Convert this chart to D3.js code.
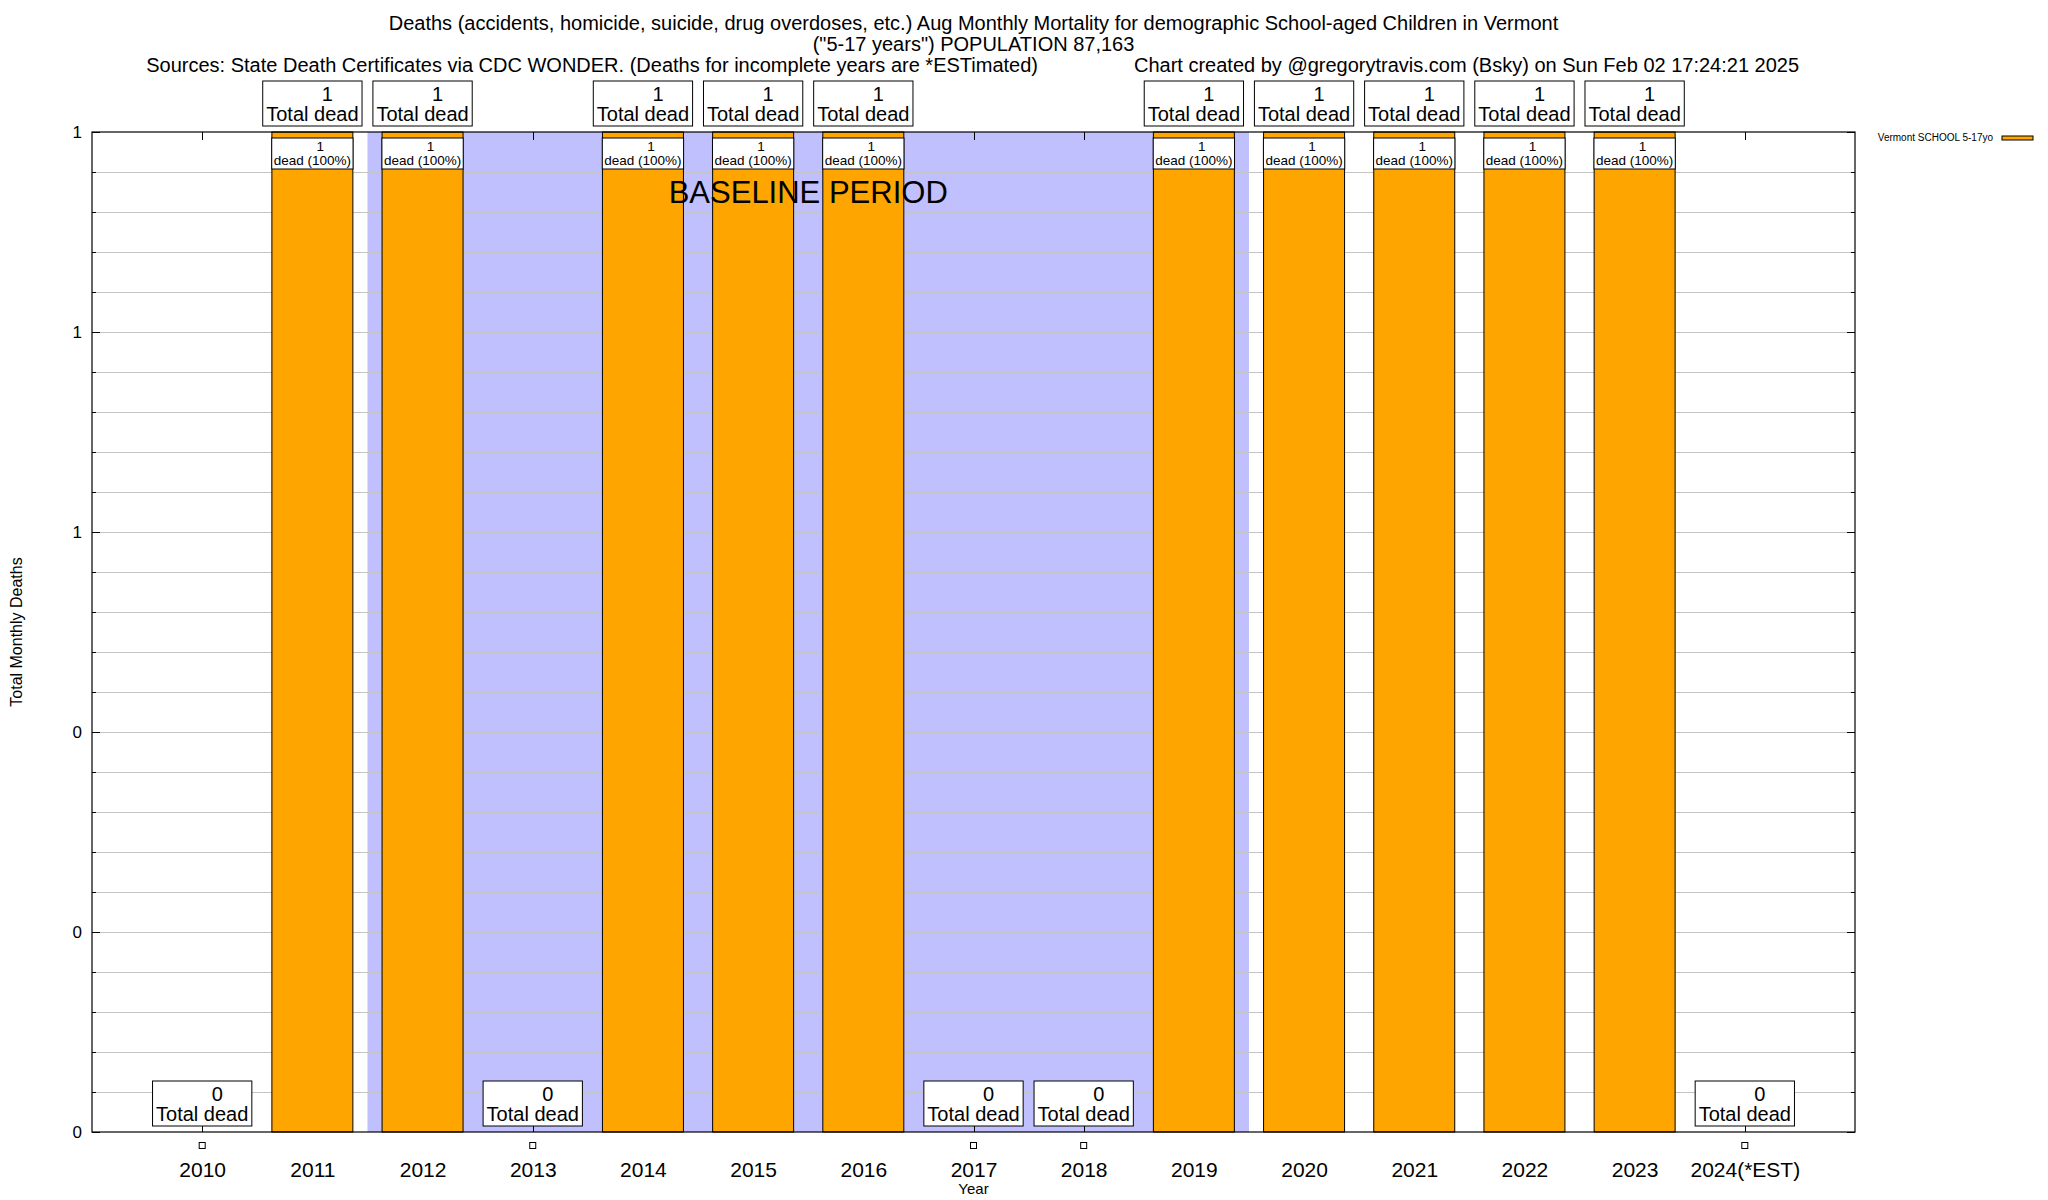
<!DOCTYPE html>
<html>
<head>
<meta charset="utf-8">
<script src="https://cdn.jsdelivr.net/npm/d3@7"></script>
<style>
  html, body { margin: 0; padding: 0; background: #fff; }
  svg { display: block; font-family: "Liberation Sans", Arial, Helvetica, sans-serif; }
</style>
</head>
<body>
<svg id="chart" width="2048" height="1200"></svg>
<script>
// ---------------- data ----------------
const categories = ["2010","2011","2012","2013","2014","2015","2016","2017","2018","2019","2020","2021","2022","2023","2024(*EST)"];
const deaths = [0, 1, 1, 0, 1, 1, 1, 0, 0, 1, 1, 1, 1, 1, 0];
const yTickValues = [0, 0.2, 0.4, 0.6, 0.8, 1];
const seriesName = "Vermont SCHOOL 5-17yo";
const baselineStart = "2012";
const baselineEnd = "2019";
const baselineLabel = "BASELINE PERIOD";
const titleLine1 = "Deaths (accidents, homicide, suicide, drug overdoses, etc.) Aug Monthly Mortality for demographic School-aged Children in Vermont";
const titleLine2 = "(\"5-17 years\") POPULATION 87,163";
const titleLine3a = "Sources: State Death Certificates via CDC WONDER. (Deaths for incomplete years are *ESTimated)";
const titleLine3b = "Chart created by @gregorytravis.com (Bsky) on Sun Feb 02 17:24:21 2025";
const xTitle = "Year";
const yTitle = "Total Monthly Deaths";

// ---------------- layout ----------------
const W = 2048, H = 1200;
const L = 92, R = 1855, T = 132, B = 1132;
const ORANGE = "#ffa500", BAND = "#c0c0ff", GRID = "#c4c4c4";

const svg = d3.select("#chart");
const x = d3.scalePoint().domain(categories).range([L, R]).padding(1);
const step = x.step();
const y = d3.scaleLinear().domain([0, 1]).range([B, T]);

// baseline band
const bx0 = x(baselineStart) - step / 2, bx1 = x(baselineEnd) + step / 2;
svg.append("rect").attr("x", bx0).attr("y", T).attr("width", bx1 - bx0).attr("height", B - T).attr("fill", BAND);

// grid lines
const minorTicks = d3.range(1, 25).map(i => i * 0.04);
svg.append("g").selectAll("line").data(minorTicks).join("line")
  .attr("x1", L).attr("x2", R).attr("y1", d => y(d)).attr("y2", d => y(d))
  .attr("stroke", GRID).attr("stroke-width", 1).attr("shape-rendering", "crispEdges");

// minor ticks (left / right)
svg.append("g").selectAll("line").data(minorTicks).join("line")
  .attr("x1", L).attr("x2", L + 4).attr("y1", d => y(d)).attr("y2", d => y(d))
  .attr("stroke", "#000").attr("shape-rendering", "crispEdges");
svg.append("g").selectAll("line").data(minorTicks).join("line")
  .attr("x1", R).attr("x2", R - 4).attr("y1", d => y(d)).attr("y2", d => y(d))
  .attr("stroke", "#000").attr("shape-rendering", "crispEdges");

// axes
const fmt = d3.format(".0f");
const gL = svg.append("g").attr("transform", `translate(${L},0)`)
  .call(d3.axisLeft(y).tickValues(yTickValues).tickFormat(fmt).tickSizeInner(-8).tickSizeOuter(0).tickPadding(10));
const gR = svg.append("g").attr("transform", `translate(${R},0)`)
  .call(d3.axisRight(y).tickValues(yTickValues).tickFormat("").tickSizeInner(-8).tickSizeOuter(0));
const gB = svg.append("g").attr("transform", `translate(0,${B})`)
  .call(d3.axisBottom(x).tickSizeInner(-8).tickSizeOuter(0).tickPadding(30));
const gT = svg.append("g").attr("transform", `translate(0,${T})`)
  .call(d3.axisTop(x).tickFormat("").tickSizeInner(-8).tickSizeOuter(0));
[gL, gR, gB, gT].forEach(g => {
  g.select(".domain").remove();
  g.selectAll(".tick line").attr("stroke", "#000").attr("shape-rendering", "crispEdges");
  g.selectAll("text").attr("fill", "#000").attr("font-family", null);
});
gL.selectAll("text").attr("font-size", 17);
gB.selectAll("text").attr("font-size", 21);

// bars
const bw = step * 0.735;
svg.append("g").selectAll("rect").data(deaths).join("rect")
  .attr("x", (d, i) => x(categories[i]) - bw / 2)
  .attr("y", d => y(d))
  .attr("width", bw)
  .attr("height", d => y(0) - y(d))
  .attr("fill", ORANGE)
  .attr("stroke", d => d > 0 ? "#000" : "none")
  .attr("stroke-width", 1);

// border
svg.append("rect").attr("x", L).attr("y", T).attr("width", R - L).attr("height", B - T)
  .attr("fill", "none").attr("stroke", "#000").attr("stroke-width", 1.2);

// zero markers
svg.append("g").selectAll("rect")
  .data(deaths.map((d, i) => ({d, i})).filter(o => o.d === 0)).join("rect")
  .attr("x", o => x(categories[o.i]) - 3).attr("y", y(0) + 10.5)
  .attr("width", 6).attr("height", 6)
  .attr("fill", "#fff").attr("stroke", "#000").attr("stroke-width", 1);

// boxed label helper
function boxedLabel(g, cx, lines, fontSize, lineGap, firstDx, anchorY, placeAbove, padX, padY) {
  const grp = g.append("g");
  const rect = grp.append("rect").attr("fill", "#fff").attr("stroke", "#000").attr("stroke-width", 1);
  const t = grp.append("text").attr("font-size", fontSize).attr("text-anchor", "middle").attr("fill", "#000");
  lines.forEach((ln, k) => {
    t.append("tspan").attr("x", cx + (k === 0 ? firstDx : 0)).attr("y", k * lineGap).text(ln);
  });
  const bb = t.node().getBBox();
  let shift;
  if (placeAbove) shift = (anchorY - padY) - (bb.y + bb.height);
  else shift = (anchorY + padY) - bb.y;
  t.attr("transform", `translate(0,${shift})`);
  const widths = t.selectAll("tspan").nodes().map(n => n.getComputedTextLength());
  const maxW = d3.max(widths);
  rect.attr("x", cx - maxW / 2 - padX).attr("width", maxW + 2 * padX)
      .attr("y", bb.y + shift - padY).attr("height", bb.height + 2 * padY);
}

const labels = svg.append("g");
deaths.forEach((d, i) => {
  const cx = x(categories[i]);
  boxedLabel(labels, cx, [String(d), "Total dead"], 20, 20, 15, y(d) - 6, true, 3.5, 1.5);
  if (d > 0) {
    const pct = Math.round(100 * d / d);
    boxedLabel(labels, cx, [String(d), `dead (${pct}%)`], 13.5, 14, 8, y(d) + 6, false, 2, 1);
  }
});

// baseline label
svg.append("text").attr("x", (bx0 + bx1) / 2).attr("y", 203).attr("text-anchor", "middle")
  .attr("font-size", 31).attr("fill", "#000").text(baselineLabel);

// titles
const cxPlot = (L + R) / 2;
svg.append("text").attr("x", cxPlot).attr("y", 30).attr("text-anchor", "middle").attr("font-size", 20).text(titleLine1);
svg.append("text").attr("x", cxPlot).attr("y", 51).attr("text-anchor", "middle").attr("font-size", 20).text(titleLine2);
svg.append("text").attr("x", 1038).attr("y", 72).attr("text-anchor", "end").attr("font-size", 20).text(titleLine3a);
svg.append("text").attr("x", 1134).attr("y", 72).attr("text-anchor", "start").attr("font-size", 20).text(titleLine3b);

// axis titles
svg.append("text").attr("x", cxPlot).attr("y", 1194).attr("text-anchor", "middle").attr("font-size", 15).text(xTitle);
svg.append("text").attr("transform", `translate(22,${(T + B) / 2}) rotate(-90)`).attr("text-anchor", "middle")
  .attr("font-size", 16).text(yTitle);

// legend
svg.append("text").attr("x", 1993).attr("y", 141).attr("text-anchor", "end").attr("font-size", 10).text(seriesName);
svg.append("rect").attr("x", 2002).attr("y", 136).attr("width", 31).attr("height", 4)
  .attr("fill", ORANGE).attr("stroke", "#000").attr("stroke-width", 1);
</script>
</body>
</html>
